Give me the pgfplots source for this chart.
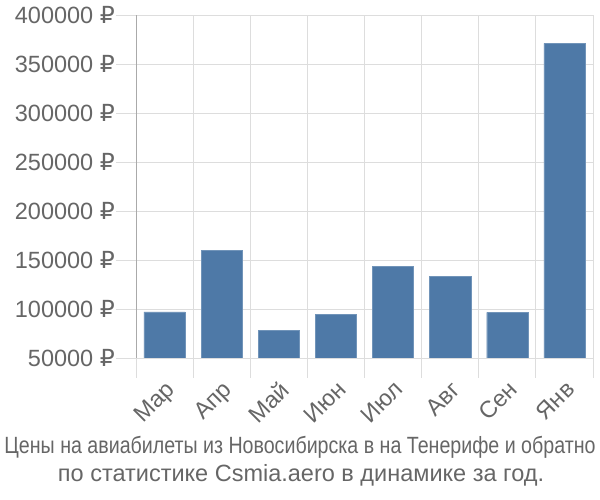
\documentclass[border=0pt]{standalone}
\usepackage{fontspec}
\setmainfont{Liberation Sans}
\newfontfamily\rubfont{DejaVu Sans}
\newcommand{\rub}{{\rubfont ₽}}
\usepackage{pgfplots}
\pgfplotsset{compat=1.18}
\definecolor{barc}{RGB}{78,121,167}
\definecolor{txt}{RGB}{102,102,102}
\definecolor{gridc}{RGB}{221,221,221}
\definecolor{axc}{RGB}{170,170,170}
\begin{document}
\begin{tikzpicture}
\useasboundingbox (0bp,0bp) rectangle (600bp,500bp);
\begin{axis}[
  at={(136bp,142bp)}, anchor=south west,
  scale only axis, width=457bp, height=343bp,
  xmin=-0.5, xmax=7.5, ymin=50000, ymax=400000,
  ybar, bar width=0.72, bar shift=0pt,
  axis lines*=left,
  x axis line style={gridc, -},
  y axis line style={axc, -},
  xtick={0,...,7},
  xticklabels={Мар,Апр,Май,Июн,Июл,Авг,Сен,Янв},
  minor xtick={-0.5,0.5,...,7.5},
  xminorgrids, ymajorgrids,
  grid style={gridc, line width=0.8bp},
  major x tick style={draw=none},
  minor x tick style={gridc, line width=0.8bp},
  ytick={50000,100000,...,400000},
  yticklabels={50000 \rub,100000 \rub,150000 \rub,200000 \rub,250000 \rub,300000 \rub,350000 \rub,400000 \rub},
  y tick style={gridc, line width=0.8bp},
  tick align=outside,
  major tick length=20bp, minor tick length=20bp,
  tick label style={font=\fontsize{23.5bp}{27bp}\selectfont, text=txt},
  xticklabel style={rotate=45, anchor=north east, inner sep=1bp},
  yticklabel style={inner sep=1bp},
  scaled y ticks=false,
]
\addplot[fill=barc, draw=barc!80!white] coordinates {
 (0,97000) (1,160200) (2,78300) (3,94200) (4,143500) (5,133400) (6,96600) (7,371000)};
\end{axis}
\node[text=txt, font=\fontsize{23.5bp}{27bp}\selectfont] at (300bp,53bp) {\scalebox{0.835}[1]{Цены на авиабилеты из Новосибирска в на Тенерифе и обратно}};
\node[text=txt, font=\fontsize{23.5bp}{27bp}\selectfont] at (301bp,25bp) {по статистике Csmia.aero в динамике за год.};
\end{tikzpicture}
\end{document}
